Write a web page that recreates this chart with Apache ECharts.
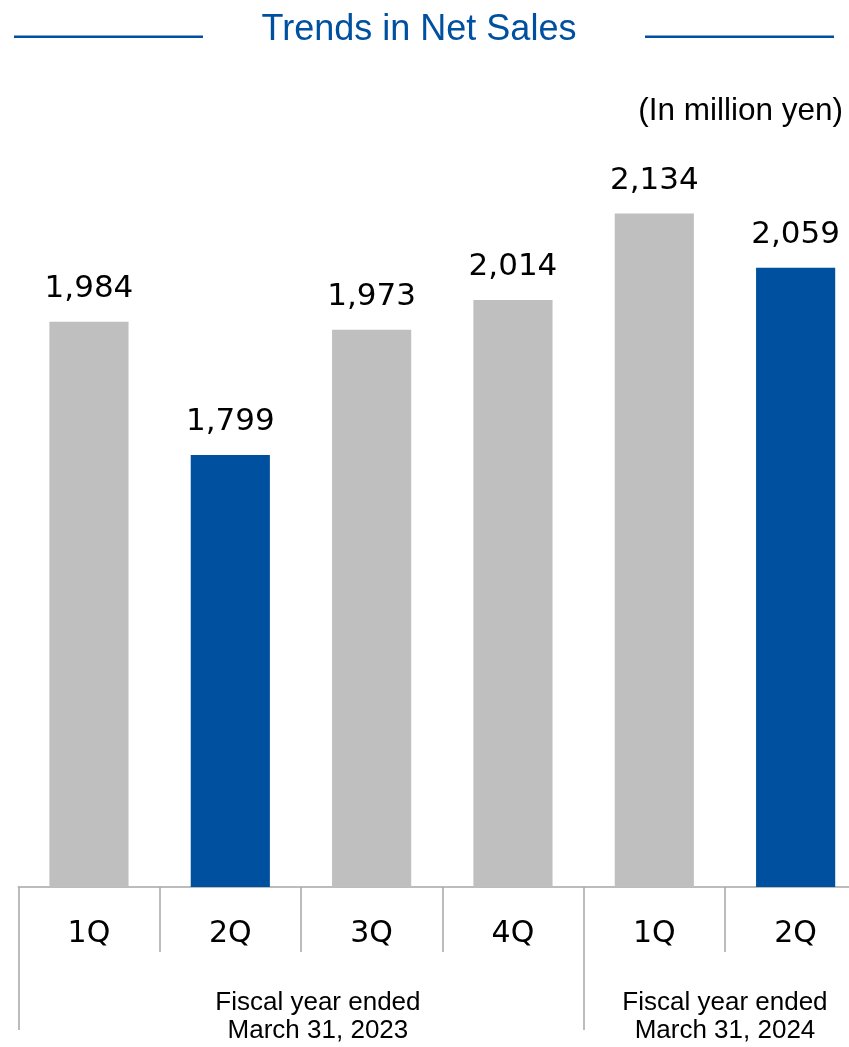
<!DOCTYPE html>
<html>
<head>
<meta charset="utf-8">
<script src="https://cdn.jsdelivr.net/npm/echarts@6/dist/echarts.min.js"></script>
<style>
html,body{margin:0;padding:0;background:#fff;}
#chart{width:849px;height:1047px;}
</style>
</head>
<body>
<div id="chart"></div>
<script>
// ---- data ----
const categories = ['1Q', '2Q', '3Q', '4Q', '1Q', '2Q'];
const netSales = [1984, 1799, 1973, 2014, 2134, 2059];
const highlighted = [false, true, false, false, false, true];
const fiscalYearLabels = ['Fiscal year ended\nMarch 31, 2023', 'Fiscal year ended\nMarch 31, 2024'];
const fiscalYearLabelPos = [2.12, 5];   // label centres in quarter units
const fiscalYearBounds = [0, 4];        // divider positions in quarter units
const titleText = 'Trends in Net Sales';
const unitText = '(In million yen)';

const GRAY = '#BFBFBF';
const BLUE = '#0050A0';
const AXIS = '#A6A6A6';

const chart = echarts.init(document.getElementById('chart'), null, {renderer: 'canvas'});

const option = {
  animation: false,
  backgroundColor: '#ffffff',
  title: [{
    text: titleText,
    left: 414, top: 7, textAlign: 'center',
    textStyle: {fontFamily: 'Liberation Sans', fontSize: 36, fontWeight: 'normal', color: BLUE}
  }, {
    text: unitText,
    right: 1, top: 90,
    textStyle: {fontFamily: 'Liberation Sans', fontSize: 31.5, fontWeight: 'normal', color: '#000'}
  }],
  graphic: [
    {type: 'line', shape: {x1: 14, y1: 36.7, x2: 203, y2: 36.7}, style: {stroke: BLUE, lineWidth: 2.5}},
    {type: 'line', shape: {x1: 645, y1: 36.7, x2: 834, y2: 36.7}, style: {stroke: BLUE, lineWidth: 2.5}}
  ],
  grid: {left: 18.3, right: -17.3, top: 166, bottom: 160, containLabel: false, outerBoundsMode: 'none'},
  xAxis: [{
    type: 'category',
    data: categories,
    axisLine: {show: true, lineStyle: {color: AXIS, width: 1.5}},
    axisTick: {show: true, length: 65, lineStyle: {color: AXIS, width: 1.5}},
    axisLabel: {margin: 32, fontFamily: 'DejaVu Sans', fontSize: 30, color: '#000'}
  }, {
    type: 'value',
    min: 0, max: 6,
    position: 'bottom',
    axisLine: {show: false},
    splitLine: {show: false},
    axisTick: {show: true, customValues: fiscalYearBounds, length: 143, lineStyle: {color: AXIS, width: 1.5}},
    axisLabel: {
      customValues: fiscalYearLabelPos,
      margin: 102,
      fontFamily: 'Liberation Sans', fontSize: 26, lineHeight: 28, color: '#000',
      formatter: function (v) {
        const i = fiscalYearLabelPos.indexOf(v);
        return i >= 0 ? fiscalYearLabels[i] : '';
      }
    }
  }],
  yAxis: {
    type: 'value', min: 1200, max: 2200, show: false,
    splitLine: {show: false}
  },
  series: [{
    type: 'bar',
    xAxisIndex: 0,
    barWidth: '56%',
    data: netSales.map((v, i) => ({value: v, itemStyle: {color: highlighted[i] ? BLUE : GRAY}})),
    label: {
      show: true, position: 'top', distance: 17.5,
      fontFamily: 'DejaVu Sans', fontSize: 31, color: '#000',
      formatter: p => p.value.toLocaleString('en-US')
    }
  }]
};
chart.setOption(option);
</script>
</body>
</html>
